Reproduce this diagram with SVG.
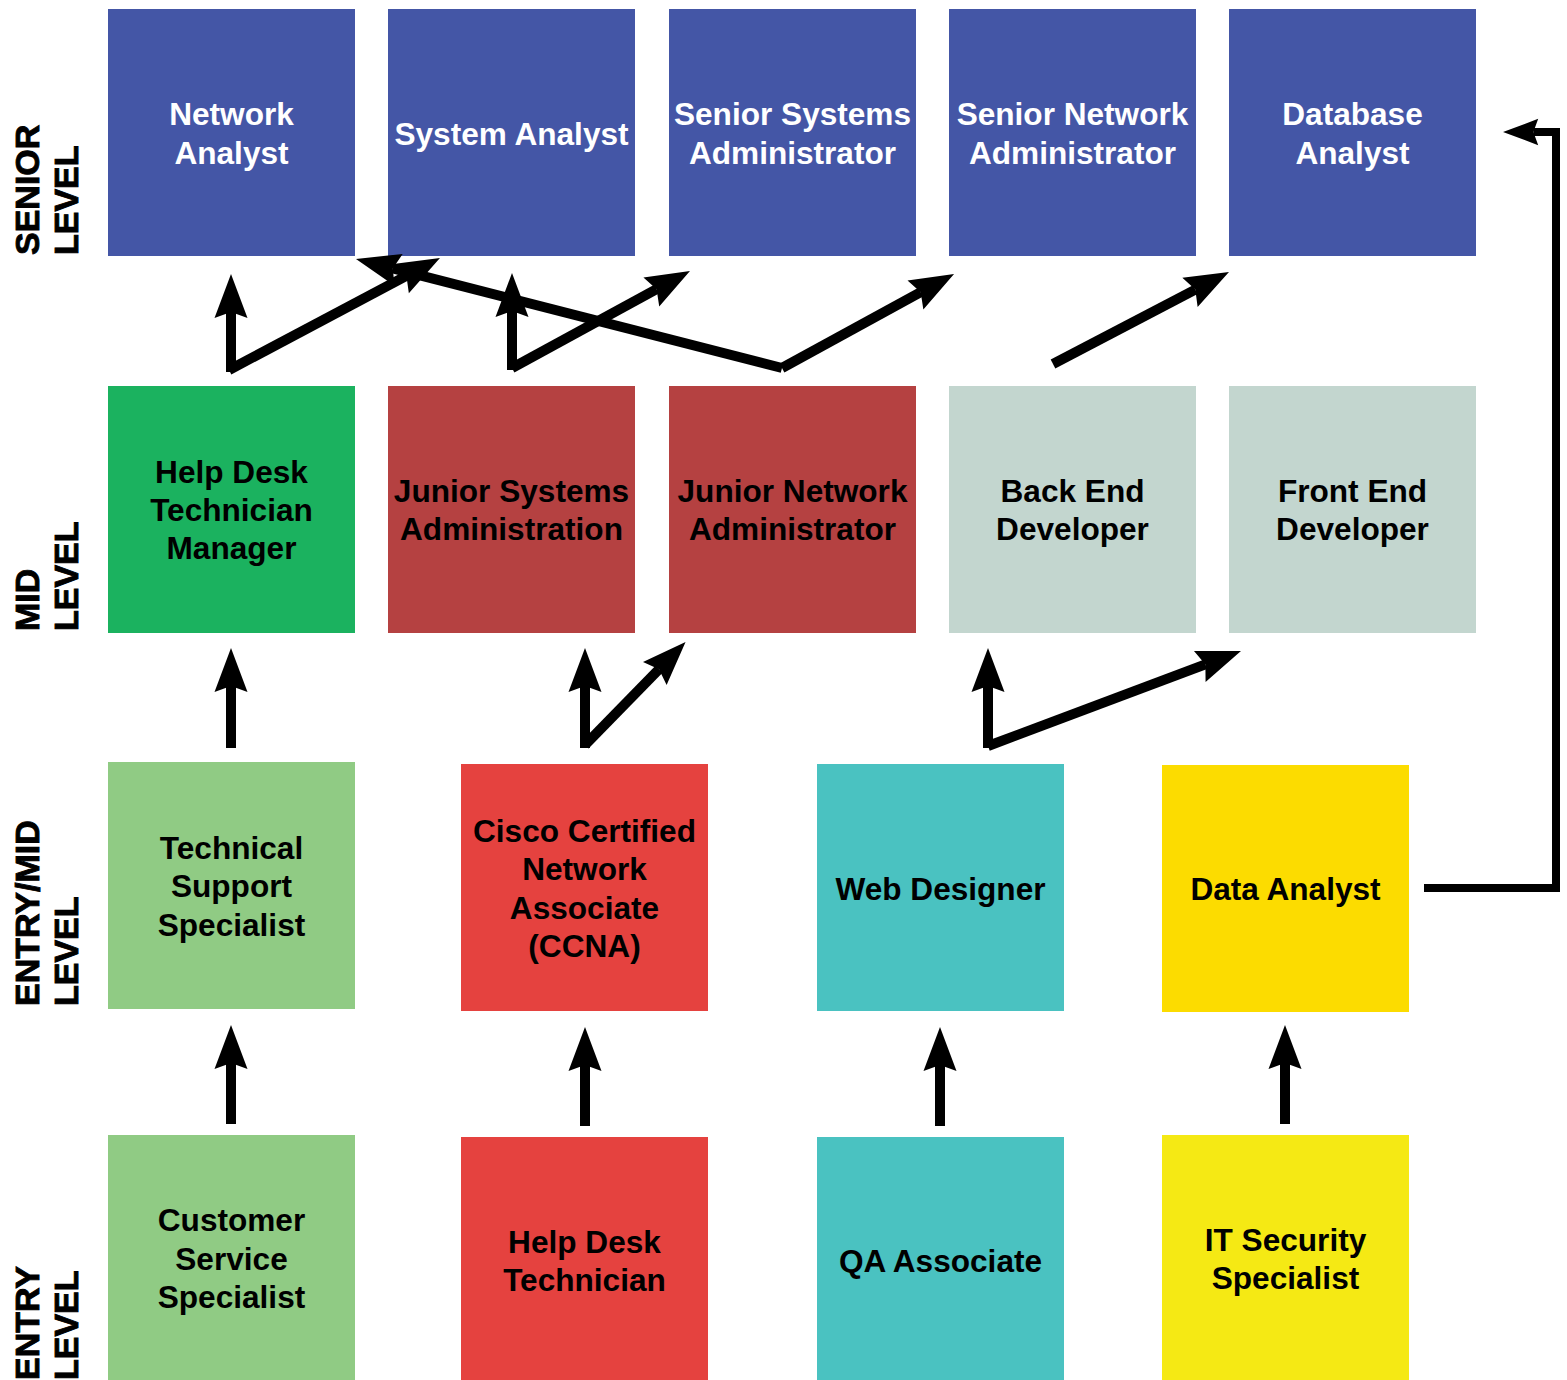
<svg xmlns="http://www.w3.org/2000/svg" width="1567" height="1380" viewBox="0 0 1567 1380">
<style>
.box{stroke:none}
.t{font-family:"Liberation Sans",Arial,Helvetica,sans-serif;font-weight:bold;font-size:31.6px;text-anchor:middle;fill:#000}
.w{fill:#fff}
.side{font-family:"Liberation Sans",Arial,Helvetica,sans-serif;font-weight:bold;font-size:34px;fill:#000;stroke:#000;stroke-width:0.9}
.c{fill:none;stroke:#000;stroke-width:10;marker-end:url(#arr)}
.c8{fill:none;stroke:#000;stroke-width:8;marker-end:url(#arr)}
</style>
<defs>
<marker id="arr" markerUnits="strokeWidth" orient="auto" refX="0" refY="0" markerWidth="5" markerHeight="5" overflow="visible">
<path d="M-0.6,-1.65 L3.8,0 L-0.6,1.65 L0,0 Z" fill="#000"/>
</marker>
</defs>
<rect width="1567" height="1380" fill="#fff"/>

<g id="side-labels">
<text class="side" transform="translate(39,255) rotate(-90)">SENIOR</text>
<text class="side" transform="translate(78,255) rotate(-90)">LEVEL</text>
<text class="side" transform="translate(39,631) rotate(-90)">MID</text>
<text class="side" transform="translate(78,631) rotate(-90)">LEVEL</text>
<text class="side" transform="translate(39,1006) rotate(-90)">ENTRY/MID</text>
<text class="side" transform="translate(78,1006) rotate(-90)">LEVEL</text>
<text class="side" transform="translate(39,1380) rotate(-90)">ENTRY</text>
<text class="side" transform="translate(78,1380) rotate(-90)">LEVEL</text>
</g>

<g id="network-analyst"><rect class="box" x="108" y="9" width="247" height="247" fill="#4456A6"/>
<text class="t w" x="231.5" y="125">Network</text><text class="t w" x="231.5" y="164">Analyst</text></g>
<g id="system-analyst"><rect class="box" x="388" y="9" width="247" height="247" fill="#4456A6"/>
<text class="t w" x="511.5" y="145">System Analyst</text></g>
<g id="senior-systems-admin"><rect class="box" x="669" y="9" width="247" height="247" fill="#4456A6"/>
<text class="t w" x="792.5" y="125">Senior Systems</text><text class="t w" x="792.5" y="164">Administrator</text></g>
<g id="senior-network-admin"><rect class="box" x="949" y="9" width="247" height="247" fill="#4456A6"/>
<text class="t w" x="1072.5" y="125">Senior Network</text><text class="t w" x="1072.5" y="164">Administrator</text></g>
<g id="database-analyst"><rect class="box" x="1229" y="9" width="247" height="247" fill="#4456A6"/>
<text class="t w" x="1352.5" y="125">Database</text><text class="t w" x="1352.5" y="164">Analyst</text></g>

<g id="help-desk-manager"><rect class="box" x="108" y="386" width="247" height="247" fill="#1BB25F"/>
<text class="t" x="231.5" y="483">Help Desk</text><text class="t" x="231.5" y="521">Technician</text><text class="t" x="231.5" y="559">Manager</text></g>
<g id="junior-systems"><rect class="box" x="388" y="386" width="247" height="247" fill="#B54141"/>
<text class="t" x="511.5" y="502">Junior Systems</text><text class="t" x="511.5" y="540">Administration</text></g>
<g id="junior-network"><rect class="box" x="669" y="386" width="247" height="247" fill="#B54141"/>
<text class="t" x="792.5" y="502">Junior Network</text><text class="t" x="792.5" y="540">Administrator</text></g>
<g id="back-end"><rect class="box" x="949" y="386" width="247" height="247" fill="#C3D6CF"/>
<text class="t" x="1072.5" y="502">Back End</text><text class="t" x="1072.5" y="540">Developer</text></g>
<g id="front-end"><rect class="box" x="1229" y="386" width="247" height="247" fill="#C3D6CF"/>
<text class="t" x="1352.5" y="502">Front End</text><text class="t" x="1352.5" y="540">Developer</text></g>

<g id="technical-support"><rect class="box" x="108" y="762" width="247" height="247" fill="#90CB84"/>
<text class="t" x="231.5" y="859">Technical</text><text class="t" x="231.5" y="897">Support</text><text class="t" x="231.5" y="936">Specialist</text></g>
<g id="ccna"><rect class="box" x="461" y="764" width="247" height="247" fill="#E5423F"/>
<text class="t" x="584.5" y="842">Cisco Certified</text><text class="t" x="584.5" y="880">Network</text><text class="t" x="584.5" y="919">Associate</text><text class="t" x="584.5" y="957">(CCNA)</text></g>
<g id="web-designer"><rect class="box" x="817" y="764" width="247" height="247" fill="#4AC2C1"/>
<text class="t" x="940.5" y="900">Web Designer</text></g>
<g id="data-analyst"><rect class="box" x="1162" y="765" width="247" height="247" fill="#FCDC00"/>
<text class="t" x="1285.5" y="900">Data Analyst</text></g>

<g id="customer-service"><rect class="box" x="108" y="1135" width="247" height="247" fill="#90CB84"/>
<text class="t" x="231.5" y="1231">Customer</text><text class="t" x="231.5" y="1270">Service</text><text class="t" x="231.5" y="1308">Specialist</text></g>
<g id="help-desk-technician"><rect class="box" x="461" y="1137" width="247" height="247" fill="#E5423F"/>
<text class="t" x="584.5" y="1253">Help Desk</text><text class="t" x="584.5" y="1291">Technician</text></g>
<g id="qa-associate"><rect class="box" x="817" y="1137" width="247" height="247" fill="#4AC2C1"/>
<text class="t" x="940.5" y="1272">QA Associate</text></g>
<g id="it-security"><rect class="box" x="1162" y="1135" width="247" height="247" fill="#F5E914"/>
<text class="t" x="1285.5" y="1251">IT Security</text><text class="t" x="1285.5" y="1289">Specialist</text></g>

<g id="connectors">
<path class="c" d="M231,1124 V1063"/>
<path class="c" d="M585,1126 V1065"/>
<path class="c" d="M940,1126 V1065"/>
<path class="c" d="M1285,1124 V1063"/>
<path class="c" d="M231,748 V686"/>
<path class="c" d="M585,748 V686"/>
<path class="c" d="M585,745 L659,669.2"/>
<path class="c" d="M988,748 V686"/>
<path class="c" d="M988,746 L1205.4,664.4"/>
<path class="c8" d="M1424,888 H1556 V132 H1533.4"/>
<path class="c" d="M231,372 V312"/>
<path class="c" d="M229,370 L406.4,275.8"/>
<path class="c" d="M512,370 V311"/>
<path class="c" d="M512,368 L656.6,289.2"/>
<path class="c" d="M782,368 L392.8,268.4"/>
<path class="c" d="M782,368 L920.7,292.2"/>
<path class="c" d="M1053,364 L1195.3,289.6"/>
</g>
</svg>
